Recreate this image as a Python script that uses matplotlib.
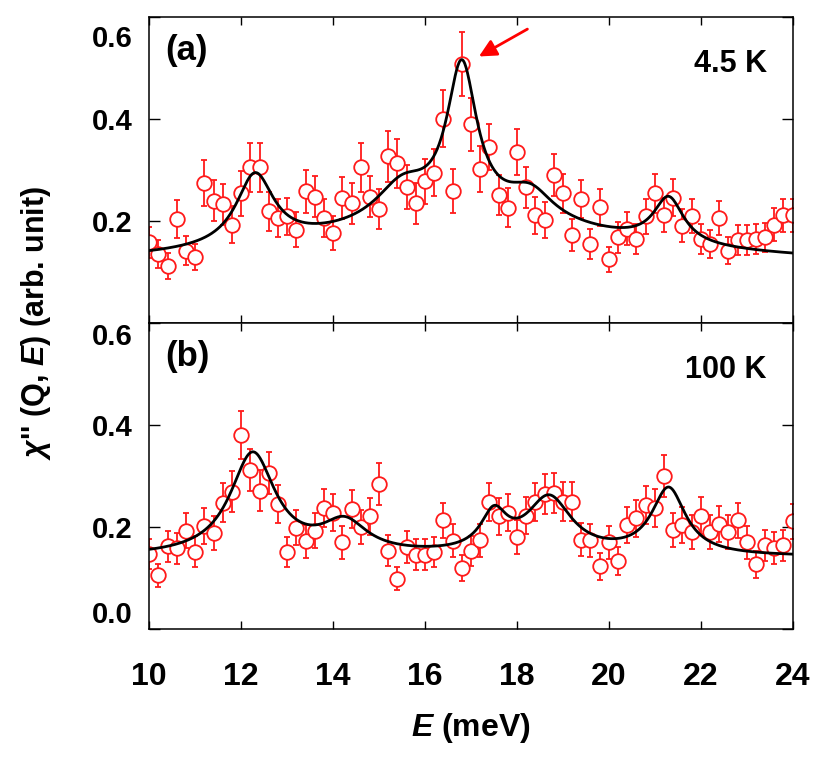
import numpy as np
import matplotlib
matplotlib.use("Agg")
import matplotlib.pyplot as plt
from matplotlib.transforms import ScaledTranslation

plt.rcParams['font.family'] = ['Liberation Sans', 'DejaVu Sans']
plt.rcParams['font.weight'] = 'bold'
plt.rcParams['mathtext.fontset'] = 'custom'
plt.rcParams['mathtext.rm'] = 'Liberation Sans:bold'
plt.rcParams['mathtext.it'] = 'Liberation Sans:italic:bold'
plt.rcParams['mathtext.bf'] = 'Liberation Sans:bold'

# energy transfer (meV), 0.2 meV steps
energy = np.linspace(10, 24, 71)

# (a) 4.5 K
chi_45K = [0.157, 0.134, 0.111, 0.203, 0.141, 0.128, 0.273, 0.239, 0.232, 0.192,
           0.253, 0.304, 0.304, 0.218, 0.205, 0.208, 0.182, 0.257, 0.247, 0.205,
           0.175, 0.244, 0.234, 0.304, 0.247, 0.223, 0.326, 0.312, 0.266, 0.234,
           0.277, 0.294, 0.400, 0.258, 0.507, 0.389, 0.301, 0.345, 0.250, 0.225,
           0.335, 0.265, 0.210, 0.201, 0.289, 0.253, 0.172, 0.242, 0.154, 0.226,
           0.124, 0.167, 0.184, 0.164, 0.208, 0.253, 0.211, 0.245, 0.190, 0.209,
           0.164, 0.154, 0.205, 0.141, 0.162, 0.162, 0.164, 0.167, 0.192, 0.210, 0.210]
err_45K = [0.030, 0.028, 0.025, 0.038, 0.028, 0.025, 0.045, 0.040, 0.040, 0.036,
           0.044, 0.048, 0.048, 0.038, 0.037, 0.037, 0.034, 0.043, 0.041, 0.037,
           0.033, 0.041, 0.040, 0.048, 0.041, 0.039, 0.050, 0.048, 0.043, 0.040,
           0.044, 0.046, 0.056, 0.043, 0.063, 0.052, 0.046, 0.045, 0.040, 0.038,
           0.045, 0.040, 0.036, 0.035, 0.041, 0.038, 0.031, 0.037, 0.029, 0.036,
           0.025, 0.030, 0.032, 0.029, 0.034, 0.038, 0.034, 0.037, 0.032, 0.034,
           0.029, 0.028, 0.034, 0.026, 0.029, 0.029, 0.029, 0.029, 0.032, 0.033, 0.033]

# (b) 100 K
chi_100K = [0.146, 0.104, 0.161, 0.157, 0.192, 0.151, 0.201, 0.187, 0.247, 0.268,
            0.380, 0.311, 0.270, 0.305, 0.244, 0.150, 0.198, 0.171, 0.192, 0.236,
            0.227, 0.169, 0.235, 0.199, 0.220, 0.283, 0.153, 0.098, 0.160, 0.145,
            0.145, 0.150, 0.212, 0.172, 0.119, 0.152, 0.173, 0.248, 0.220, 0.227,
            0.179, 0.221, 0.248, 0.264, 0.266, 0.249, 0.249, 0.174, 0.173, 0.122,
            0.169, 0.132, 0.203, 0.216, 0.242, 0.236, 0.299, 0.193, 0.203, 0.189,
            0.221, 0.189, 0.205, 0.189, 0.212, 0.169, 0.126, 0.163, 0.158, 0.163, 0.210]
err_100K = [0.030, 0.022, 0.031, 0.031, 0.034, 0.030, 0.035, 0.033, 0.038, 0.040,
            0.047, 0.042, 0.040, 0.042, 0.038, 0.030, 0.034, 0.032, 0.034, 0.037,
            0.036, 0.032, 0.037, 0.034, 0.036, 0.041, 0.030, 0.022, 0.031, 0.030,
            0.030, 0.030, 0.035, 0.032, 0.026, 0.030, 0.032, 0.038, 0.036, 0.036,
            0.033, 0.036, 0.038, 0.039, 0.039, 0.038, 0.038, 0.032, 0.032, 0.026,
            0.032, 0.027, 0.035, 0.036, 0.038, 0.037, 0.042, 0.034, 0.035, 0.034,
            0.036, 0.034, 0.035, 0.034, 0.035, 0.032, 0.026, 0.031, 0.031, 0.031, 0.035]

# fitted model: background + Lorentzian peaks (center, height, HWHM)
fit_45K_bg = 0.11
fit_45K_broad = (17.0, 0.09, 4.0)
fit_45K_peaks = [(12.3, 0.14, 0.5), (15.5, 0.07, 0.7), (16.8, 0.29, 0.4),
                 (18.3, 0.055, 0.6), (21.3, 0.09, 0.4)]

fit_100K_bg = 0.14
fit_100K_broad = (16.5, 0.0, 4.0)
fit_100K_peaks = [(12.25, 0.20, 0.6), (14.25, 0.06, 0.6), (17.5, 0.073, 0.35),
                  (18.7, 0.11, 0.6), (21.3, 0.13, 0.45)]


def lorentz(x, c, h, g):
    return h * g**2 / ((x - c)**2 + g**2)


def model(x, bg, broad, peaks):
    y = bg + lorentz(x, *broad)
    for p in peaks:
        y = y + lorentz(x, *p)
    return y


red = '#ff1a1a'
fig = plt.figure(figsize=(8.29, 7.58), dpi=100)
ax1 = fig.add_axes([0.1801, 0.5745, 0.7761, 0.4037])
ax2 = fig.add_axes([0.1801, 0.1708, 0.7761, 0.4037], sharex=ax1)

xfit = np.linspace(10, 24, 1000)
panels = [(ax1, chi_45K, err_45K, fit_45K_bg, fit_45K_broad, fit_45K_peaks, '(a)', '4.5 K'),
          (ax2, chi_100K, err_100K, fit_100K_bg, fit_100K_broad, fit_100K_peaks, '(b)', '100 K')]

for ax, y, e, bg, broad, peaks, tag, temp in panels:
    ax.errorbar(energy, y, yerr=e, fmt='o', ms=10.5, mfc='white', mec=red, mew=1.3,
                ecolor=red, elinewidth=1.3, capsize=2.5, capthick=1.3, zorder=2)
    ax.plot(xfit, model(xfit, bg, broad, peaks), color='black', lw=2, zorder=3)
    ax.set_xlim(10, 24)
    ax.set_ylim(0, 0.6)
    ax.tick_params(direction='in', top=True, right=True, length=8, width=1,
                   labelsize=21, pad=12)
    ax.tick_params(axis='x', length=6, labelsize=23, pad=24)
    for s in ax.spines.values():
        s.set_linewidth(1.1)
    ax.text(0.025, 0.89, tag, transform=ax.transAxes, fontsize=25,
            fontweight='bold', va='center', ha='left')
    ax.text(0.96, 0.845, temp, transform=ax.transAxes, fontsize=22,
            fontweight='bold', va='center', ha='right')

ax1.set_yticks([0.2, 0.4, 0.6])
ax1.set_yticklabels(['0.2', '0.4', '0.6'])
top_lbl = ax1.get_yticklabels()[2]
top_lbl.set_va('top')
top_lbl.set_transform(top_lbl.get_transform()
                      + ScaledTranslation(0, -6 / 72, fig.dpi_scale_trans))
ax1.tick_params(axis='x', labelbottom=False)
ax2.set_yticks([0.0, 0.2, 0.4, 0.6])
ax2.set_yticklabels(['0.0', '0.2', '0.4', '0.6'])
ax2.get_yticklabels()[0].set_va('bottom')
ax2.get_yticklabels()[3].set_va('top')
ax2.set_xticks([10, 12, 14, 16, 18, 20, 22, 24])

ax2.set_xlabel(r'$E$ (meV)', fontsize=23, fontweight='bold', labelpad=14)
fig.text(0.043, 0.5745, r"$\chi$'' (Q, $E$) (arb. unit)", rotation=90,
         fontsize=22, fontweight='bold', va='center', ha='center')

ax1.annotate('', xy=(17.12, 0.519), xytext=(18.28, 0.578),
             arrowprops=dict(arrowstyle='-|>', color='red', lw=2, mutation_scale=26))

fig.savefig('out.png', dpi=100)
